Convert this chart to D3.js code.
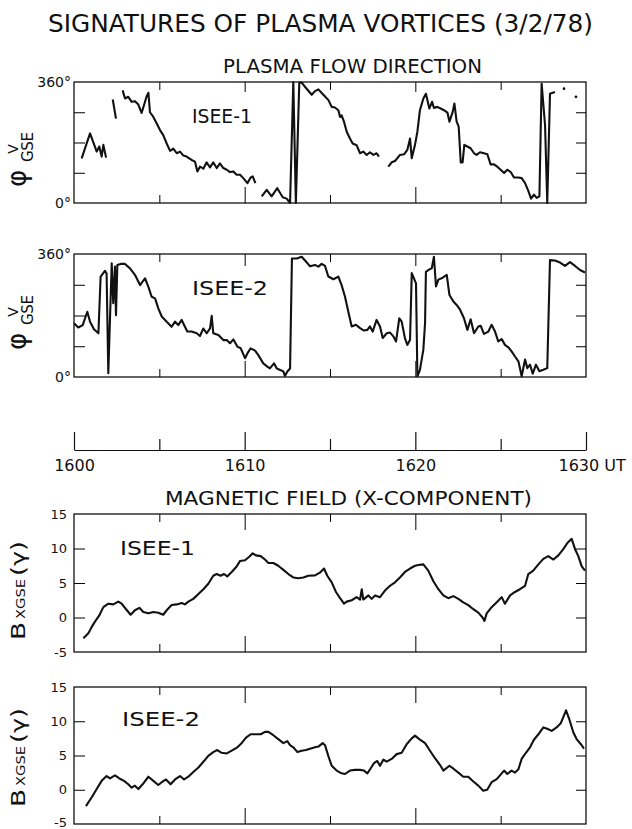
<!doctype html>
<html>
<head>
<meta charset="utf-8">
<script src="https://d3js.org/d3.v7.min.js"></script>
<style>
    body { margin: 0; background: #fff; }
    svg text { font-family: 'DejaVu Sans', sans-serif; fill: #111; }
</style>
</head>
<body>
<div id="graph"></div>
<script>
// time is minutes after 1600 UT, flow angle in degrees, null = data gap
const flowIsee1 = [
    [0.45,133],[0.94,207],[1.33,153],[1.48,168],[1.62,138],[1.72,173],[1.88,135], null,
    [2.27,308],[2.46,251], null,
    [2.85,335],[2.99,311],[3.18,316],[3.38,301],[3.57,303],[3.77,293],[3.96,268],[4.10,291],[4.26,318],[4.36,328],
    [4.45,270],[4.65,256],[4.84,237],[5.04,217],[5.23,202],[5.43,177],[5.63,155],[5.82,162],[6.02,148],[6.21,153],
    [6.41,141],[6.60,138],[6.89,128],[7.09,123],[7.23,94],[7.38,108],[7.58,102],[7.77,121],[7.97,106],[8.16,121],
    [8.36,104],[8.55,118],[8.75,104],[8.95,99],[9.14,92],[9.34,94],[9.53,84],[9.73,84],[9.92,74],[10.16,59],
    [10.35,76],[10.47,79],[10.63,59], null,
    [11.0,20],[11.29,39],[11.58,20],[11.91,44],[12.23,17],[12.46,13],[12.66,0],[12.85,360],[13.0,0],[13.2,358],
    [13.34,358],[13.63,340],[13.93,322],[14.12,333],[14.32,338],[14.61,322],[14.91,306],[15.10,286],[15.29,284],
    [15.49,276],[15.59,256],[15.68,261],[15.82,242],[15.98,212],[16.17,192],[16.33,177],[16.56,172],[16.76,148],
    [16.95,153],[17.15,143],[17.34,151],[17.54,143],[17.73,148],[17.87,138], null,
    [18.42,108],[18.61,121],[18.81,125],[19.10,143],[19.34,145],[19.53,158],[19.69,192],[19.79,133],[19.98,173],
    [20.12,212],[20.27,276],[20.47,311],[20.62,325],[20.82,281],[20.98,301],[21.09,283],[21.29,286],[21.48,281],
    [21.68,276],[21.88,269],[22.0,242],[22.19,271],[22.29,296],[22.42,242],[22.54,227],[22.66,121],[22.77,121],
    [22.87,173],[23.05,168],[23.24,163],[23.44,148],[23.59,143],[23.79,151],[24.02,148],[24.22,145],[24.41,115],
    [24.61,115],[24.80,108],[25.0,99],[25.2,89],[25.39,99],[25.59,92],[25.78,76],[26.04,76],[26.23,74],[26.43,59],
    [26.62,36],[26.78,13],[26.95,25],[27.11,15],[27.27,20],[27.4,355],[27.6,232],[27.73,0],[27.89,325],[28.18,330]
];
const flowIsee1Dots = [[28.71,340],[29.41,316]];

const flowIsee2 = [
    [0,157],[0.25,145],[0.51,152],[0.78,191],[0.94,162],[1.17,140],[1.43,128],[1.56,294],[1.82,311],[1.91,303],
    [2.01,11],[2.21,333],[2.30,216],[2.40,323],[2.46,181],[2.54,328],[2.73,331],[2.99,331],[3.28,318],[3.57,299],
    [3.87,269],[4.16,289],[4.36,264],[4.55,235],[4.75,230],[4.94,201],[5.14,177],[5.43,162],[5.72,147],[5.92,162],
    [6.11,152],[6.31,167],[6.50,147],[6.64,133],[6.89,133],[7.19,128],[7.38,120],[7.58,142],[7.77,128],[7.97,142],
    [8.07,179],[8.16,128],[8.46,123],[8.75,108],[8.95,108],[9.14,99],[9.34,110],[9.57,89],[9.77,84],[10.02,55],
    [10.16,69],[10.35,84],[10.61,77],[10.8,64],[11.09,40],[11.29,32],[11.48,25],[11.72,40],[11.88,25],[12.11,20],
    [12.27,16],[12.36,3],[12.5,16],[12.66,25],[12.77,347],[13.05,347],[13.34,352],[13.59,338],[13.83,324],
    [14.12,328],[14.32,323],[14.51,331],[14.71,325],[14.9,294],[15.2,286],[15.49,294],[15.68,269],[15.88,235],
    [16.07,192],[16.27,148],[16.52,153],[16.76,143],[16.99,136],[17.19,138],[17.34,148],[17.5,133],[17.73,167],
    [17.93,148],[18.09,114],[18.32,128],[18.52,130],[18.71,119],[18.87,104],[19.06,172],[19.2,162],[19.39,114],
    [19.53,94],[19.69,109],[19.79,304],[20.04,274],[20.12,2],[20.27,21],[20.47,80],[20.57,158],[20.62,308],
    [20.82,315],[20.96,318],[21.09,352],[21.21,265],[21.35,285],[21.54,289],[21.84,299],[22.0,240],[22.23,221],
    [22.42,211],[22.62,197],[22.85,172],[23.05,138],[23.24,169],[23.44,128],[23.69,148],[23.83,150],[24.02,126],
    [24.28,133],[24.47,153],[24.67,133],[24.86,104],[25.06,111],[25.25,94],[25.45,87],[25.64,75],[25.84,60],
    [26.04,46],[26.23,2],[26.43,51],[26.56,26],[26.72,36],[26.88,10],[27.07,36],[27.27,17],[27.5,21],[27.73,26],
    [27.89,342],[28.18,341],[28.48,335],[28.77,325],[29.06,336],[29.36,325],[29.65,313],[29.94,306]
];

// B_x GSE in gamma
const bxIsee1 = [
    [0.55,-3.0],[0.84,-2.3],[1.03,-1.4],[1.23,-0.6],[1.48,0.3],[1.72,1.5],[2.01,2.0],[2.3,1.9],[2.6,2.3],[2.79,2.0],
    [3.05,1.2],[3.32,0.4],[3.57,1.05],[3.83,1.4],[4.06,0.8],[4.36,0.6],[4.65,0.8],[4.94,0.7],[5.23,0.4],[5.43,1.05],
    [5.72,1.8],[6.02,1.9],[6.31,2.1],[6.5,1.9],[6.7,2.3],[6.99,2.7],[7.29,3.4],[7.58,4.1],[7.87,4.9],[8.16,6.05],
    [8.36,6.3],[8.59,6.05],[8.79,6.3],[8.98,5.95],[9.24,6.6],[9.53,7.4],[9.73,8.2],[10.02,8.3],[10.27,8.8],[10.47,9.3],
    [10.66,9.0],[10.94,8.9],[11.19,8.4],[11.39,7.9],[11.68,7.9],[11.97,7.5],[12.27,6.9],[12.56,6.3],[12.85,5.8],
    [13.14,5.7],[13.44,5.8],[13.73,6.05],[14.12,6.1],[14.41,6.5],[14.65,7.1],[14.84,6.05],[15.1,5.1],[15.35,3.7],
    [15.59,2.8],[15.82,2.0],[15.98,2.3],[16.27,2.5],[16.56,2.95],[16.76,2.6],[16.86,4.1],[16.95,2.6],[17.25,3.2],
    [17.44,2.7],[17.64,3.2],[17.93,2.95],[18.22,3.9],[18.52,4.6],[18.81,5.1],[19.1,5.8],[19.39,6.6],[19.69,7.1],
    [19.98,7.5],[20.18,7.6],[20.47,7.7],[20.76,6.8],[21.05,5.3],[21.35,4.1],[21.64,3.2],[21.93,2.8],[22.23,3.1],
    [22.52,2.7],[22.81,2.2],[23.1,1.8],[23.4,1.2],[23.69,0.7],[23.94,0.0],[24.05,-0.5],[24.18,0.6],[24.47,1.5],
    [24.77,2.2],[25.06,2.95],[25.25,2.0],[25.55,3.2],[25.84,3.7],[26.13,4.1],[26.43,4.6],[26.62,6.3],[26.91,6.8],
    [27.21,7.7],[27.5,8.5],[27.79,8.9],[28.09,8.4],[28.38,9.0],[28.67,9.9],[28.91,10.8],[29.16,11.4],[29.36,9.9],
    [29.55,8.9],[29.75,7.4],[29.94,6.8]
];

const bxIsee2 = [
    [0.70,-2.4],[1.04,-1.1],[1.33,0.1],[1.62,1.3],[1.91,2.0],[2.11,1.65],[2.4,2.1],[2.66,1.65],[2.93,1.3],[3.18,0.8],
    [3.38,0.3],[3.57,0.6],[3.77,0.1],[4.02,0.8],[4.36,1.9],[4.65,1.3],[4.94,0.7],[5.14,1.1],[5.39,1.5],[5.66,0.8],
    [5.92,1.5],[6.21,2.0],[6.45,1.5],[6.7,1.9],[6.99,2.6],[7.29,3.25],[7.62,4.2],[7.87,4.95],[8.16,5.5],[8.4,5.8],
    [8.65,5.4],[8.95,5.3],[9.24,5.7],[9.57,6.2],[9.82,6.8],[10.08,7.6],[10.35,8.1],[10.66,8.1],[10.94,8.1],[11.19,8.45],
    [11.39,8.45],[11.68,7.96],[11.97,7.4],[12.27,6.8],[12.5,7.1],[12.66,6.5],[12.85,6.2],[13.09,5.5],[13.34,5.7],
    [13.59,5.8],[13.83,6.0],[14.12,6.2],[14.32,6.3],[14.57,6.8],[14.71,6.5],[14.9,4.95],[15.1,3.5],[15.39,2.8],
    [15.68,2.4],[15.88,2.3],[16.17,2.8],[16.46,2.9],[16.76,2.9],[16.99,2.8],[17.19,2.4],[17.38,3.1],[17.58,3.9],
    [17.77,4.2],[17.93,3.5],[18.13,4.4],[18.32,4.1],[18.61,4.5],[18.91,5.2],[19.2,5.4],[19.49,6.65],[19.79,7.5],
    [19.98,7.9],[20.23,7.4],[20.57,6.8],[20.86,5.7],[21.15,4.6],[21.45,3.6],[21.64,2.8],[22.0,3.5],[22.27,3.0],
    [22.52,2.5],[22.81,1.9],[23.1,1.9],[23.4,1.2],[23.69,0.6],[23.98,-0.15],[24.21,0],[24.47,1.1],[24.77,1.55],
    [25.06,2.4],[25.2,2.8],[25.39,2.3],[25.64,2.8],[25.84,2.5],[26.04,3.0],[26.23,4.5],[26.48,5.4],[26.72,6.2],
    [26.95,7.3],[27.21,8.1],[27.5,9.1],[27.73,8.9],[27.99,8.6],[28.28,9.1],[28.52,9.7],[28.83,11.6],[29.02,10.3],
    [29.26,8.35],[29.45,7.4],[29.75,6.5],[29.88,6.0]
];

const majorTicks = [10, 20];
const minorTicks = [5, 15, 25];
const timeTicks = [0, 10, 20, 30];
const timeLabels = ['1600', '1610', '1620', '1630 UT'];
const angleTicks = [90, 180, 270];
const angleLabels = [0, 360];
const bTicks = [10, 5, 0];
const bLabels = [15, 10, 5, 0, -5];

const svg = d3.select('#graph').append('svg')
    .attr('width', 632)
    .attr('height', 829);

const x = d3.scaleLinear().domain([0, 30]).range([74, 586]);

// titles
svg.append('text').attr('x', 48).attr('y', 32)
    .attr('font-size', 25).attr('textLength', 545).attr('lengthAdjust', 'spacingAndGlyphs')
    .text('SIGNATURES OF PLASMA VORTICES (3/2/78)');
svg.append('text').attr('x', 223).attr('y', 73)
    .attr('font-size', 20).attr('textLength', 259).attr('lengthAdjust', 'spacingAndGlyphs')
    .text('PLASMA FLOW DIRECTION');
svg.append('text').attr('x', 165).attr('y', 505)
    .attr('font-size', 20).attr('textLength', 367).attr('lengthAdjust', 'spacingAndGlyphs')
    .text('MAGNETIC FIELD (X-COMPONENT)');

function inward(g, axisFn, values, size, tx, ty) {
    g.append('g')
        .attr('transform', `translate(${tx},${ty})`)
        .call(axisFn.tickValues(values).tickSize(size).tickFormat(''))
        .call(a => a.select('.domain').remove());
}

function drawPanel(p) {
    const y = d3.scaleLinear().domain(p.domain).range([p.bottom, p.top]);
    const g = svg.append('g');

    g.append('rect')
        .attr('x', x(0)).attr('y', p.top)
        .attr('width', x(30) - x(0)).attr('height', p.bottom - p.top)
        .attr('fill', 'none').attr('stroke', '#111').attr('stroke-width', 1.3);

    // ticks on all four sides, pointing in
    inward(g, d3.axisBottom(x), majorTicks, p.major, 0, p.top);
    inward(g, d3.axisBottom(x), minorTicks, 8, 0, p.top);
    inward(g, d3.axisTop(x), majorTicks, 16, 0, p.bottom);
    inward(g, d3.axisTop(x), minorTicks, 8, 0, p.bottom);
    inward(g, d3.axisRight(y), p.yTicks, 11, x(0), 0);
    inward(g, d3.axisLeft(y), p.yTicks, 10, x(30), 0);

    const labels = g.append('g')
        .attr('transform', `translate(${x(0)},0)`)
        .call(d3.axisLeft(y).tickValues(p.yLabels).tickSize(0).tickPadding(p.pad).tickFormat(p.fmt))
        .call(a => a.select('.domain').remove());
    labels.selectAll('text')
        .style('font-size', p.labelSize + 'px')
        .style('font-family', 'DejaVu Sans')
        .attr('fill', '#111');
    if (p.lowShift) {
        labels.selectAll('.tick').filter(d => d === p.domain[0]).select('text').attr('y', -p.lowShift);
    }

    const line = d3.line()
        .defined(d => d !== null)
        .x(d => x(d[0]))
        .y(d => y(d[1]));

    g.append('path')
        .datum(p.data)
        .attr('d', line)
        .attr('fill', 'none')
        .attr('stroke', '#111')
        .attr('stroke-width', 2.1)
        .attr('stroke-linejoin', 'round');

    if (p.dots) {
        g.selectAll('.dot').data(p.dots).enter().append('circle')
            .attr('cx', d => x(d[0])).attr('cy', d => y(d[1]))
            .attr('r', 1.4).attr('fill', '#111');
    }

    g.append('text')
        .attr('x', p.tag[0]).attr('y', p.tag[1])
        .attr('font-size', 20).attr('textLength', p.tag[2]).attr('lengthAdjust', 'spacingAndGlyphs')
        .text(p.tagText);

    return g;
}

function phiLabel(g, yb) {
    g.append('text').attr('transform', `translate(26,${yb}) rotate(-90)`)
        .attr('font-size', 26).text('\u03c6');
    g.append('text').attr('transform', `translate(33,${yb - 25}) rotate(-90)`)
        .attr('font-size', 15).attr('textLength', 30).text('GSE');
    g.append('text').attr('transform', `translate(18,${yb - 38}) rotate(-90)`)
        .attr('font-size', 14).attr('text-anchor', 'middle').text('V');
}

function bLabel(g, yb) {
    const part = (dy, size, len, s) => g.append('text')
        .attr('transform', `translate(25,${yb - dy}) rotate(-90)`)
        .attr('font-size', size).attr('textLength', len).attr('lengthAdjust', 'spacingAndGlyphs')
        .text(s);
    part(0, 20, 18, 'B');
    part(21, 12, 40, 'XGSE');
    part(64, 20, 35, '(\u03b3)');
}

const degFmt = d => d + '\u00b0';
const numFmt = d => String(d);

const p1 = drawPanel({ top: 82, bottom: 203, domain: [0, 360], data: flowIsee1, dots: flowIsee1Dots,
    yTicks: angleTicks, yLabels: angleLabels, fmt: degFmt, pad: 3, labelSize: 14, major: 10,
    tag: [192, 123, 60], tagText: 'ISEE-1' });
phiLabel(p1, 187);

const p2 = drawPanel({ top: 254, bottom: 377, domain: [0, 360], data: flowIsee2,
    yTicks: angleTicks, yLabels: angleLabels, fmt: degFmt, pad: 3, labelSize: 14, major: 12,
    tag: [192, 295, 76], tagText: 'ISEE-2' });
phiLabel(p2, 350);

const p3 = drawPanel({ top: 514, bottom: 652, domain: [-5, 15], data: bxIsee1,
    yTicks: bTicks, yLabels: bLabels, fmt: numFmt, pad: 7, labelSize: 13, major: 16,
    tag: [120, 555, 75], tagText: 'ISEE-1' });
bLabel(p3, 640);

const p4 = drawPanel({ top: 687, bottom: 824, domain: [-5, 15], data: bxIsee2,
    yTicks: bTicks, yLabels: bLabels, fmt: numFmt, pad: 7, labelSize: 13, major: 16, lowShift: 2,
    tag: [122, 726, 78], tagText: 'ISEE-2' });
bLabel(p4, 807);

// shared time axis between the two groups
const timeAxis = svg.append('g').attr('transform', 'translate(0,450)');
timeAxis.call(d3.axisBottom(x).tickValues(timeTicks).tickSize(-18).tickSizeOuter(0).tickPadding(10)
        .tickFormat((d, i) => timeLabels[i]))
    .selectAll('text')
    .style('font-size', '16px')
    .style('font-family', 'DejaVu Sans')
    .attr('fill', '#111');
timeAxis.selectAll('.tick:last-of-type text').attr('text-anchor', 'start').attr('x', -28);
timeAxis.append('g')
    .call(d3.axisBottom(x).tickValues(minorTicks).tickSize(-11).tickFormat(''))
    .call(a => a.select('.domain').remove());
timeAxis.selectAll('line, path').attr('stroke', '#111').attr('stroke-width', 1.2);
</script>
</body>
</html>
